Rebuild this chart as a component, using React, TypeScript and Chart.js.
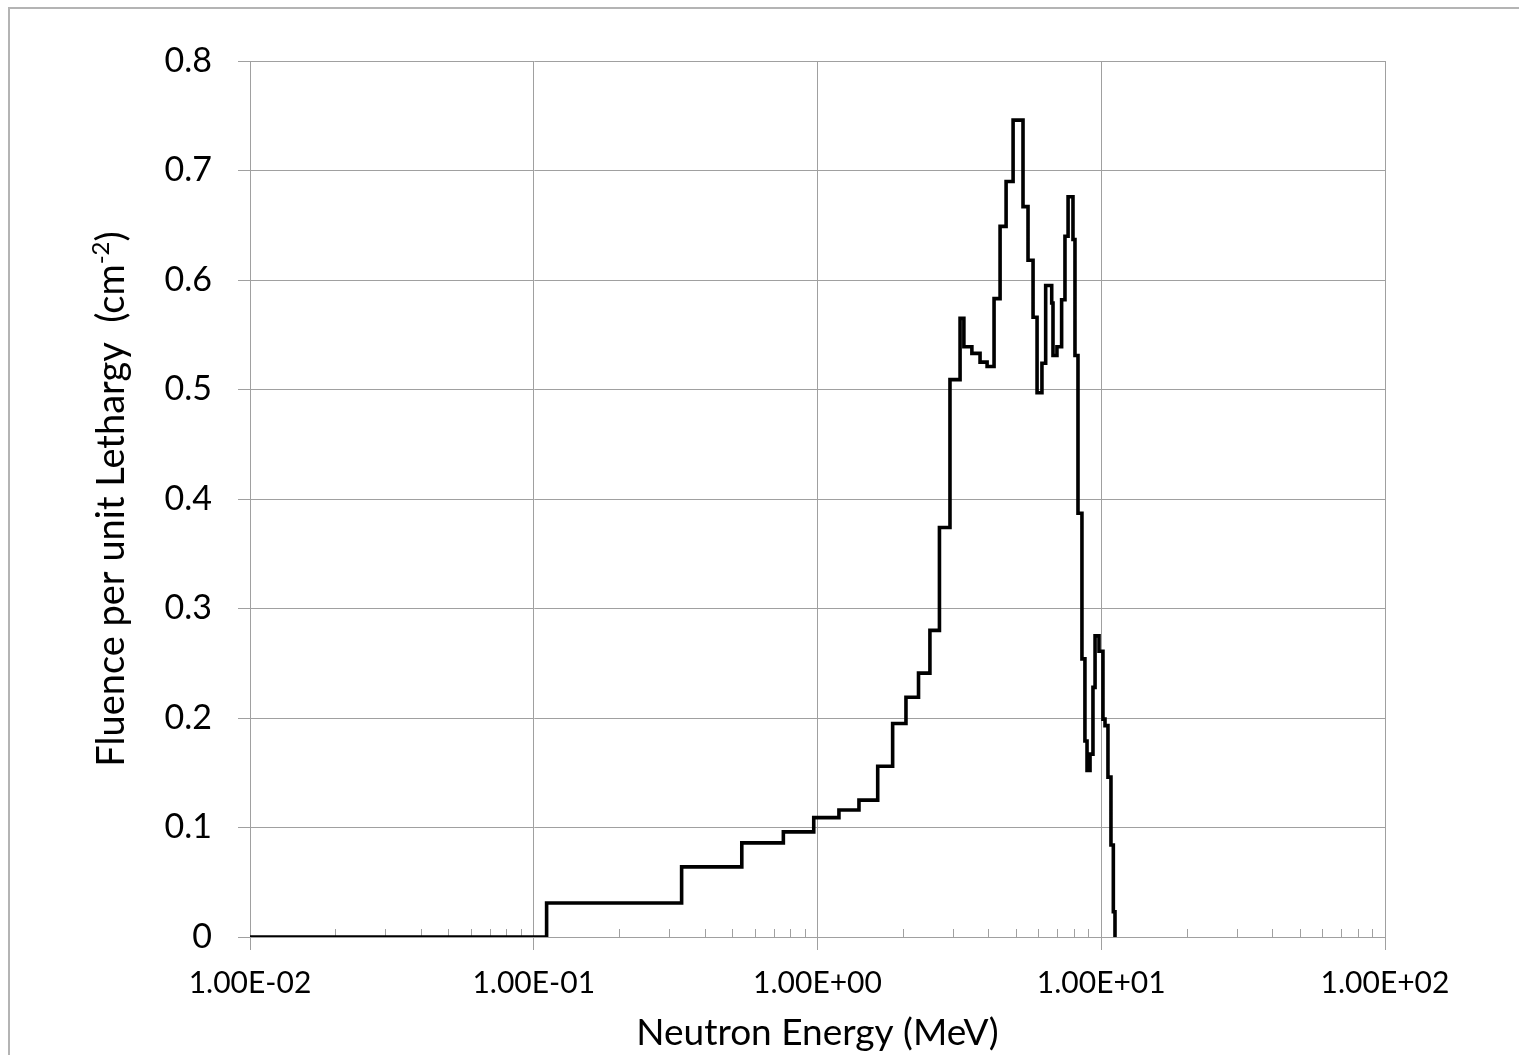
import React, { useEffect, useRef } from 'react';
import { Chart, registerables } from 'chart.js';

Chart.register(...registerables);

// Energy bin edges (MeV); the last entry closes the final bin.
const binEdgesMeV = [
  0.01, 0.111, 0.332, 0.541, 0.758, 0.97, 1.19, 1.4, 1.63, 1.84,
  2.05, 2.27, 2.49, 2.69, 2.93, 3.18, 3.28, 3.5, 3.74, 3.96,
  4.19, 4.4, 4.62, 4.89, 5.3, 5.52, 5.75, 5.94, 6.18, 6.37,
  6.69, 6.76, 6.98, 7.25, 7.45, 7.64, 7.95, 8.08, 8.28, 8.55,
  8.76, 8.91, 9.13, 9.35, 9.51, 9.82, 10.14, 10.31, 10.56, 10.82,
  11.03, 11.18,
];

// Fluence per unit lethargy in each bin (cm^-2).
const fluencePerLethargy = [
  0, 0.031, 0.064, 0.086, 0.096, 0.109, 0.116, 0.125, 0.156, 0.195,
  0.219, 0.241, 0.28, 0.374, 0.509, 0.565, 0.539, 0.533, 0.525, 0.521,
  0.583, 0.649, 0.69, 0.746, 0.667, 0.618, 0.566, 0.497, 0.524, 0.595,
  0.579, 0.531, 0.539, 0.582, 0.64, 0.676, 0.637, 0.531, 0.387, 0.254,
  0.179, 0.152, 0.167, 0.228, 0.275, 0.261, 0.199, 0.193, 0.146, 0.084,
  0.023,
];

const energyTicks = [0.01, 0.1, 1, 10, 100];
const energyTickLabels = ['1.00E-02', '1.00E-01', '1.00E+00', '1.00E+01', '1.00E+02'];
const minorMultiples = [2, 3, 4, 5, 6, 7, 8, 9];

const fluenceTicks = [0, 0.1, 0.2, 0.3, 0.4, 0.5, 0.6, 0.7, 0.8];
const fluenceTickLabels = ['0', '0.1', '0.2', '0.3', '0.4', '0.5', '0.6', '0.7', '0.8'];

const xTitle = 'Neutron Energy (MeV)';
const yTitleMain = 'Fluence per unit Lethargy  (cm';
const yTitleSup = '-2';
const yTitleEnd = ')';

const FONT = 'Lato, "Open Sans", sans-serif';
const GRID = '#a0a0a0';

// Histogram steps: each bin's value is held from its lower edge to the next edge,
// and the trace drops back to zero at the upper edge of the last bin.
const stepPoints = [
  ...fluencePerLethargy.map((v, i) => ({ x: binEdgesMeV[i], y: v })),
  { x: binEdgesMeV[binEdgesMeV.length - 1], y: 0 },
];

// Short minor tick marks pointing up into the plot at 2..9 x each decade.
const minorTicksPlugin = {
  id: 'minorTicks',
  beforeDatasetsDraw(chart: any) {
    const { ctx, chartArea } = chart;
    const xs = chart.scales.x;
    ctx.save();
    ctx.strokeStyle = GRID;
    ctx.lineWidth = 1;
    ctx.beginPath();
    for (let d = 0; d < energyTicks.length - 1; d++) {
      for (const m of minorMultiples) {
        const px = Math.round(xs.getPixelForValue(m * energyTicks[d])) + 0.5;
        ctx.moveTo(px, chartArea.bottom);
        ctx.lineTo(px, chartArea.bottom - 8);
      }
    }
    ctx.stroke();
    ctx.restore();
  },
};

// Rotated y-axis title with a superscript exponent.
const yTitlePlugin = {
  id: 'yTitleSup',
  afterDraw(chart: any) {
    const { ctx, chartArea } = chart;
    const cx = 102;
    const cy = (chartArea.top + chartArea.bottom) / 2;
    const mainFont = `38px ${FONT}`;
    const supFont = `24px ${FONT}`;
    ctx.save();
    ctx.translate(cx, cy);
    ctx.rotate(-Math.PI / 2);
    ctx.font = mainFont;
    const w1 = ctx.measureText(yTitleMain).width;
    const w3 = ctx.measureText(yTitleEnd).width;
    ctx.font = supFont;
    const w2 = ctx.measureText(yTitleSup).width;
    let x = -(w1 + w2 + w3) / 2;
    ctx.fillStyle = '#000';
    ctx.textAlign = 'left';
    ctx.textBaseline = 'middle';
    ctx.font = mainFont;
    ctx.fillText(yTitleMain, x, 0);
    x += w1;
    ctx.font = supFont;
    ctx.fillText(yTitleSup, x, -11);
    x += w2;
    ctx.font = mainFont;
    ctx.fillText(yTitleEnd, x, 0);
    ctx.restore();
  },
};

export default function App() {
  const canvasRef = useRef<HTMLCanvasElement | null>(null);

  useEffect(() => {
    const canvas = canvasRef.current;
    if (!canvas) return;
    const chart = new Chart(canvas, {
      type: 'line',
      data: {
        datasets: [
          {
            data: stepPoints,
            stepped: true,
            borderColor: '#000',
            borderWidth: 3.6,
            pointRadius: 0,
            fill: false,
          },
        ],
      },
      options: {
        animation: false,
        responsive: false,
        devicePixelRatio: 1,
        parsing: false,
        layout: { padding: { left: 0, top: 52, right: 134, bottom: 0 } },
        plugins: {
          legend: { display: false },
          tooltip: { enabled: false },
        },
        scales: {
          x: {
            type: 'logarithmic',
            min: 0.01,
            max: 100,
            afterBuildTicks: (axis: any) => {
              axis.ticks = energyTicks.map((v) => ({ value: v, major: true }));
            },
            afterFit: (axis: any) => {
              axis.height = 118;
            },
            ticks: {
              autoSkip: false,
              maxRotation: 0,
              minRotation: 0,
              padding: 15,
              color: '#000',
              font: { family: FONT, size: 30 },
              callback: (_v: any, i: number) => energyTickLabels[i],
            },
            grid: { color: GRID, lineWidth: 1, tickLength: 13, drawTicks: true },
            border: { color: GRID, width: 1 },
            title: {
              display: true,
              text: xTitle,
              color: '#000',
              font: { family: FONT, size: 37 },
              padding: { top: 0, bottom: 0 },
            },
          },
          y: {
            type: 'linear',
            min: 0,
            max: 0.8,
            afterBuildTicks: (axis: any) => {
              axis.ticks = fluenceTicks.map((v) => ({ value: v }));
            },
            afterFit: (axis: any) => {
              axis.width = 240;
            },
            ticks: {
              padding: 26,
              color: '#000',
              font: { family: FONT, size: 34 },
              callback: (_v: any, i: number) => fluenceTickLabels[i],
            },
            grid: { color: GRID, lineWidth: 1, tickLength: 12, drawTicks: true },
            border: { color: GRID, width: 1 },
          },
        },
      },
      plugins: [minorTicksPlugin, yTitlePlugin],
    });
    return () => chart.destroy();
  }, []);

  return (
    <div
      style={{
        position: 'fixed',
        left: 8,
        top: 7,
        width: 1511,
        height: 1048,
        borderLeft: '2px solid #b4b4b4',
        borderTop: '2px solid #b4b4b4',
        background: '#fff',
        boxSizing: 'border-box',
      }}
    >
      <canvas
        ref={canvasRef}
        width={1509}
        height={1046}
        style={{ display: 'block', width: 1509, height: 1046 }}
      />
    </div>
  );
}
